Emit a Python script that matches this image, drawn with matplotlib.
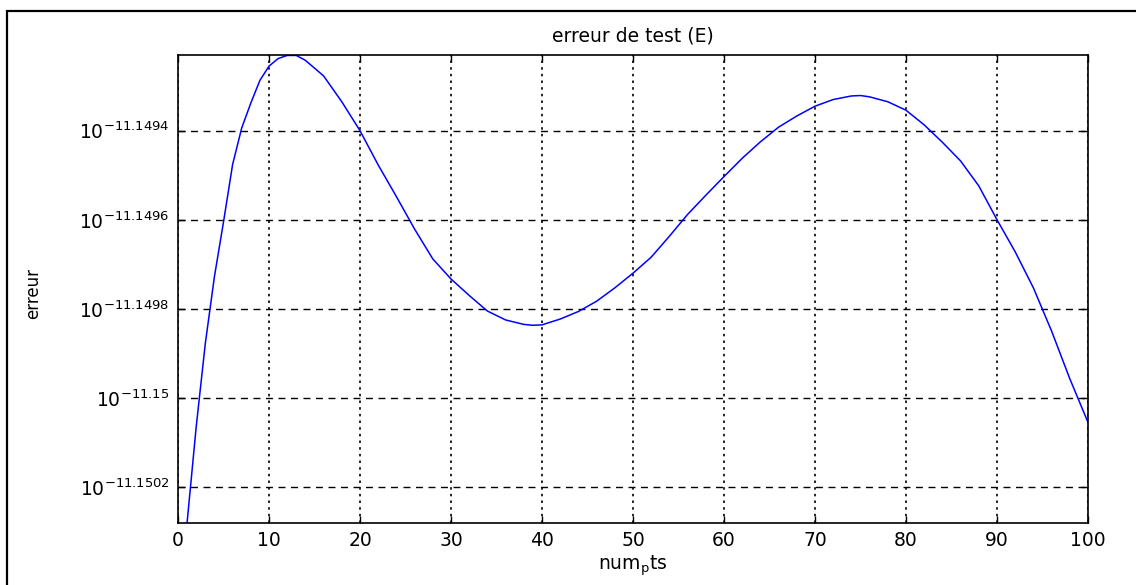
import numpy as np
import matplotlib
matplotlib.use('Agg')
import matplotlib.pyplot as plt
from matplotlib.patches import Rectangle

# x positions (num_pts) and log10 of the error
num_pts = [1, 2, 3, 4, 5, 6, 7, 8, 9, 10, 11, 12, 13, 14, 16, 18, 20, 22, 24, 26,
           28, 30, 32, 34, 36, 38, 39, 40, 42, 44, 46, 48, 50, 52, 54, 56, 58, 60,
           62, 64, 66, 68, 70, 72, 74, 75, 76, 78, 80, 82, 84, 86, 88, 90, 92, 94,
           96, 98, 100]
log_err = [-11.15028, -11.150065, -11.149878, -11.149728, -11.149605, -11.149476,
           -11.149394, -11.149338, -11.149287, -11.149255, -11.149238, -11.149231,
           -11.149231, -11.149242, -11.149277, -11.149335, -11.1494, -11.149477,
           -11.149548, -11.149621, -11.149688, -11.149733, -11.14977, -11.149805,
           -11.149825, -11.149835, -11.149837, -11.149836, -11.149823, -11.149806,
           -11.149783, -11.149753, -11.14972, -11.149684, -11.149637, -11.149588,
           -11.149545, -11.149503, -11.149462, -11.149425, -11.149392, -11.149367,
           -11.149345, -11.14933, -11.149322, -11.149321, -11.149324, -11.149335,
           -11.149354, -11.149387, -11.149426, -11.149468, -11.149524, -11.1496,
           -11.149672, -11.149753, -11.14985, -11.149957, -11.150055]

ytick_exp = [-11.1502, -11.15, -11.1498, -11.1496, -11.1494]
ytick_txt = ['-11.1502', '-11.15', '-11.1498', '-11.1496', '-11.1494']
xticks = [0, 10, 20, 30, 40, 50, 60, 70, 80, 90, 100]

err = 10.0 ** np.array(log_err)

fig = plt.figure(figsize=(11.36, 5.85), dpi=100)
ax = fig.add_axes([178/1136, 1-523/585, 910/1136, 468/585])

ax.plot(num_pts, err, color='#0000ff', lw=1.1)
ax.set_yscale('log')
ax.set_xlim(0, 100)
ax.set_ylim(10**-11.150281, 10**-11.14923)

ax.set_xticks(xticks)
ax.set_xticklabels([str(t) for t in xticks], fontsize=13.5)
ax.minorticks_off()
ax.set_yticks([10**e for e in ytick_exp])
ax.set_yticklabels(['$10^{' + t + '}$' for t in ytick_txt], fontsize=13.5)
ax.yaxis.set_minor_locator(matplotlib.ticker.NullLocator())

ax.tick_params(direction='in', length=5, width=1, top=True, right=True, pad=6)
for s in ax.spines.values():
    s.set_linewidth(1.2)

ax.xaxis.grid(True, color='black', linestyle=(0, (1.5, 2.5)), lw=1.2)
ax.yaxis.grid(True, color='black', linestyle=(0, (5, 4)), lw=1.0)

ax.set_title('erreur de test (E)', fontsize=13.5, pad=10)
ax.set_xlabel('num$_\\mathrm{p}$ts', fontsize=13.5, labelpad=2)
ax.set_ylabel('erreur', fontsize=12)
ax.yaxis.set_label_coords(-0.149, 0.49)

# outer frame of the figure window
fig.patches.append(Rectangle((7/1136, -0.1), 1.2, 1.1 - 11/585, transform=fig.transFigure,
                             fill=False, edgecolor='black', lw=1.6, clip_on=False))

plt.savefig('out.png', dpi=100)
